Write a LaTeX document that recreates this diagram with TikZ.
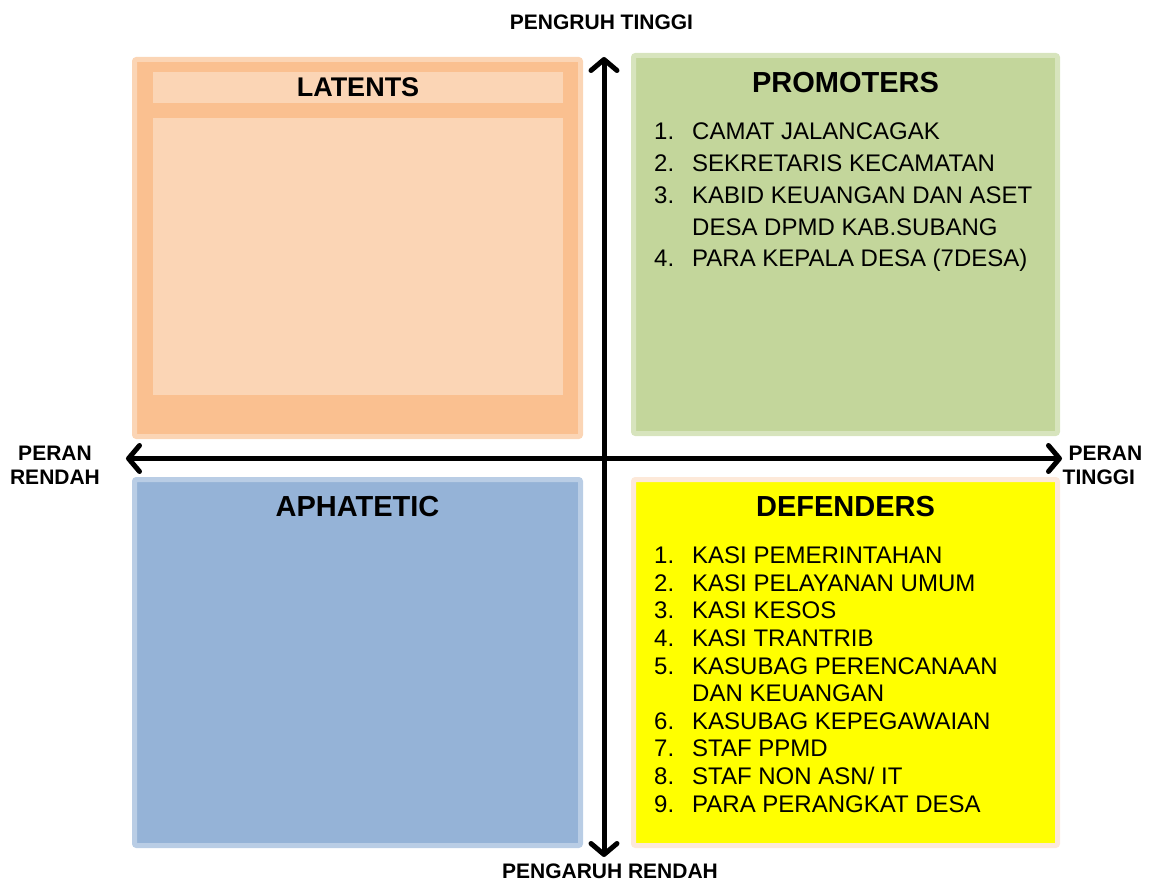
\documentclass[tikz,border=0pt]{standalone}
\usepackage{fontspec}
\setmainfont{Liberation Sans}
\usetikzlibrary{arrows.meta, positioning}
\definecolor{latentfill}{HTML}{FAC090}
\definecolor{latentline}{HTML}{FBD5B5}
\definecolor{promofill}{HTML}{C3D69B}
\definecolor{promoline}{HTML}{D7E4BD}
\definecolor{apafill}{HTML}{95B3D7}
\definecolor{apaline}{HTML}{B9CDE5}
\definecolor{defendfill}{HTML}{FFFF00}
\definecolor{defendline}{HTML}{FDE9D9}
\tikzstyle{quadrant} = [rectangle, inner sep=0pt, line width=5pt, rounded corners=2pt]
\tikzstyle{band} = [rectangle, inner sep=0pt, fill=latentline]
\tikzstyle{heading} = [inner sep=0pt, anchor=base, font=\fontsize{29}{34}\selectfont\bfseries]
\tikzstyle{axislabel} = [inner sep=0pt, anchor=base, font=\fontsize{21}{23.3}\selectfont\bfseries]
\tikzstyle{entries} = [inner sep=0pt, anchor=base west]
\tikzstyle{axisarrow} = [line width=5pt, {Straight Barb[length=11pt,width=26pt,round]}-{Straight Barb[length=11pt,width=26pt,round]}]

\begin{document}
\begin{tikzpicture}[x=1pt, y=-1pt]
\useasboundingbox (0,0) rectangle (1159,882);

% Latents Quadrant
\node (latents) [quadrant, fill=latentfill, draw=latentline, minimum width=446pt, minimum height=377pt] at (357.5,248) {};
\node (latentsHead) [band, minimum width=410pt, minimum height=31pt] at (358,87.5) {};
\node (latentsBody) [band, minimum width=410pt, minimum height=277pt] at (358,256.5) {};
\node (latentsTitle) [heading, font=\fontsize{27}{32}\selectfont\bfseries, yshift=-9pt] at (latentsHead.center) {LATENTS};

% Promoters Quadrant
\node (promoters) [quadrant, fill=promofill, draw=promoline, minimum width=424pt, minimum height=378pt] at (845.5,244.5) {};
\node (promoTitle) [heading, yshift=-40pt] at (promoters.north) {PROMOTERS};
\node (promoList) [entries, font=\fontsize{24}{31.8}\selectfont] at (654,139.7) {%
\begin{tabular}[t]{@{}p{38pt}@{}l@{}}
1. & CAMAT JALANCAGAK\\
2. & SEKRETARIS KECAMATAN\\
3. & KABID KEUANGAN DAN ASET\\
   & DESA DPMD KAB.SUBANG\\
4. & PARA KEPALA DESA (7DESA)
\end{tabular}};

% Aphatetic Quadrant
\node (aphatetic) [quadrant, fill=apafill, draw=apaline, minimum width=446pt, minimum height=366pt] at (357.5,662.5) {};
\node (apaTitle) [heading, yshift=-39.5pt] at (aphatetic.north) {APHATETIC};

% Defenders Quadrant
\node (defenders) [quadrant, fill=defendfill, draw=defendline, minimum width=424pt, minimum height=366pt] at (845.5,662.5) {};
\node (defendTitle) [heading, yshift=-39.5pt] at (defenders.north) {DEFENDERS};
\node (defendList) [entries, font=\fontsize{24}{27.6}\selectfont] at (654,563.6) {%
\begin{tabular}[t]{@{}p{38pt}@{}l@{}}
1. & KASI PEMERINTAHAN\\
2. & KASI PELAYANAN UMUM\\
3. & KASI KESOS\\
4. & KASI TRANTRIB\\
5. & KASUBAG PERENCANAAN\\
   & DAN KEUANGAN\\
6. & KASUBAG KEPEGAWAIAN\\
7. & STAF PPMD\\
8. & STAF NON ASN/ IT\\
9. & PARA PERANGKAT DESA
\end{tabular}};

% Axes
\coordinate (westEnd) at (126,458.5);
\coordinate (eastEnd) at (1062,458.5);
\coordinate (northEnd) at (604,57);
\coordinate (southEnd) at (604,857);
\draw [axisarrow] (westEnd) -- (eastEnd);
\draw [axisarrow] (northEnd) -- (southEnd);

% Axis Labels
\node (highInfluence) [axislabel] at (601.5,29.3) {PENGRUH TINGGI};
\node (lowInfluence) [axislabel] at (610,878.7) {PENGARUH RENDAH};
\node (lowRole) [axislabel, align=center] at (55,484) {PERAN\\RENDAH};
\node (highRole) [axislabel, align=left, anchor=base west] at (1062.5,484) {\hspace*{6pt}PERAN\\TINGGI};

\end{tikzpicture}
\end{document}
